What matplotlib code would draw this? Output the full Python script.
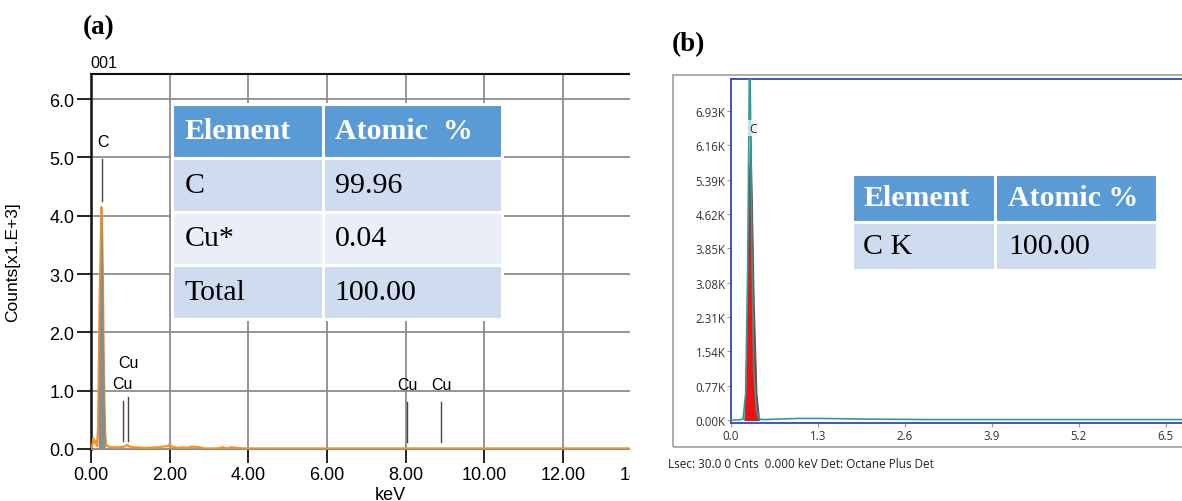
import matplotlib
matplotlib.use("Agg")
import matplotlib.pyplot as plt
from matplotlib.patches import Rectangle

W, H = 1182, 502

# ---------------- data: panel (a) ----------------
energy_a = [0.00, 0.03, 0.06, 0.09, 0.12, 0.15, 0.18, 0.20, 0.22, 0.24, 0.26, 0.28,
            0.30, 0.32, 0.34, 0.36, 0.39, 0.45, 0.55, 0.70, 0.85, 0.92, 0.98, 1.10,
            1.40, 1.70, 1.95, 2.00, 2.06, 2.20, 2.35, 2.45, 2.55, 2.75, 2.90, 3.20,
            3.35, 3.45, 3.58, 3.70, 3.85, 5.00, 8.00, 11.00, 15.50]
counts_a = [0.00, 0.05, 0.18, 0.10, 0.14, 0.05, 0.35, 1.50, 2.60, 3.20, 4.15, 3.90,
            3.00, 1.75, 0.85, 0.25, 0.06, 0.04, 0.03, 0.03, 0.04, 0.07, 0.04, 0.03,
            0.02, 0.03, 0.05, 0.08, 0.04, 0.02, 0.03, 0.02, 0.04, 0.03, 0.01, 0.01,
            0.03, 0.01, 0.03, 0.02, 0.01, 0.01, 0.01, 0.01, 0.01]
roi_a = (0.18, 0.36)

# element marker lines: (energy, y_top, y_bottom)
markers_a = [(0.277, 4.97, 4.25), (0.811, 0.82, 0.14), (0.930, 0.89, 0.14),
             (8.040, 0.81, 0.12), (8.905, 0.81, 0.12)]
# marker labels: (text, energy, y)
labels_a = [("C", 0.30, 5.27), ("Cu", 0.81, 1.13), ("Cu", 0.94, 1.49),
            ("Cu", 8.04, 1.11), ("Cu", 8.92, 1.11)]

table_a_header = ["Element", "Atomic  %"]
table_a_rows = [["C", "99.96"], ["Cu*", "0.04"], ["Total", "100.00"]]

# ---------------- data: panel (b) ----------------
energy_b = [0.00, 0.10, 0.18, 0.22, 0.25, 0.27, 0.28, 0.29, 0.31, 0.34, 0.38, 0.42,
            0.50, 0.70, 1.00, 1.30, 1.60, 2.00, 2.50, 3.00, 4.00, 5.00, 6.00, 6.80]
counts_b = [0.00, 0.00, 0.02, 0.60, 3.50, 7.00, 8.50, 7.20, 4.00, 1.20, 0.20, 0.02,
            0.01, 0.02, 0.035, 0.035, 0.03, 0.02, 0.015, 0.01, 0.01, 0.01, 0.01, 0.01]
roi_energy_b = [0.20, 0.24, 0.27, 0.29, 0.31, 0.34, 0.38, 0.42]
roi_counts_b = [0.00, 2.20, 5.50, 6.40, 5.00, 2.60, 0.60, 0.00]

yticks_b = [0.00, 0.77, 1.54, 2.31, 3.08, 3.85, 4.62, 5.39, 6.16, 6.93]
xticks_b = [0.0, 1.3, 2.6, 3.9, 5.2, 6.5]

table_b_header = ["Element", "Atomic %"]
table_b_rows = [["C K", "100.00"]]


def px_box(x0, y0, x1, y1):
    return [x0 / W, 1 - y1 / H, (x1 - x0) / W, (y1 - y0) / H]


def draw_table(fig, box, header, rows, col_frac, pads):
    tax = fig.add_axes(box)
    tax.axis("off")
    tbl = tax.table(cellText=rows, colLabels=header, bbox=[0, 0, 1, 1],
                    colWidths=col_frac, cellLoc="left", colLoc="left")
    tbl.auto_set_font_size(False)
    for (r, c), cell in tbl.get_celld().items():
        cell.set_edgecolor("white")
        cell.set_linewidth(2.2)
        cell.PAD = pads[c]
        txt = cell.get_text()
        txt.set_fontfamily("Liberation Serif")
        txt.set_fontsize(21.5)
        if r == 0:
            cell.set_facecolor("#5b9bd5")
            txt.set_color("white")
            txt.set_fontweight("bold")
        else:
            cell.set_facecolor("#e9eef7" if r % 2 == 0 else "#cfdbee")
            txt.set_color("black")
    tax.set_zorder(12)
    return tax


fig = plt.figure(figsize=(W / 100, H / 100), dpi=100)
fig.patch.set_facecolor("white")

# ================= panel (a) =================
ax = fig.add_axes(px_box(91, 75, 689, 450))
ax.plot(energy_a, counts_a, color="#f7931e", lw=1.6, zorder=3)
mask = [roi_a[0] <= e <= roi_a[1] for e in energy_a]
ax.fill_between(energy_a, 0, counts_a, where=mask, color="#8c8c8c", lw=0, zorder=4)
for e, y1, y0 in markers_a:
    ax.plot([e, e], [y0, y1], color="#444444", lw=1.0, zorder=4)
for t, e, y in labels_a:
    ax.text(e, y, t, ha="center", va="center", fontsize=11.5,
            family="Liberation Sans", zorder=4)

ax.set_xlim(0, 15.2)
ax.set_ylim(0, 6.43)
ax.set_xticks([0, 2, 4, 6, 8, 10, 12, 14])
ax.set_xticklabels([f"{v:.2f}" for v in [0, 2, 4, 6, 8, 10, 12, 14]])
ax.set_yticks([0, 1, 2, 3, 4, 5, 6])
ax.set_yticklabels([f"{v:.1f}" for v in range(7)])
ax.grid(True, color="#8c8c8c", lw=1.3)
ax.set_axisbelow(True)
for lab in ax.get_xticklabels() + ax.get_yticklabels():
    lab.set_family("Liberation Sans")
    lab.set_fontsize(13)
ax.tick_params(axis="both", direction="out", length=10, width=1.4, color="#222222", pad=2)
ax.spines["left"].set_color("#111111")
ax.spines["left"].set_linewidth(1.8)
ax.spines["top"].set_color("#111111")
ax.spines["top"].set_linewidth(1.5)
ax.spines["bottom"].set_color("#8c8c8c")
ax.spines["right"].set_visible(False)
ax.set_ylabel("Counts[x1.E+3]", family="Liberation Sans", fontsize=12.5, labelpad=6)
ax.yaxis.set_label_coords(-0.118, 0.5)
ax.set_xlabel("keV", family="Liberation Sans", fontsize=13, labelpad=0)
ax.xaxis.set_label_coords(0.50, -0.098)

fig.text(90 / W, 1 - 63 / H, "001", ha="left", va="center", fontsize=11.7, family="Liberation Sans")
fig.text(83 / W, 1 - 28 / H, "(a)", ha="left", va="center", fontsize=19.5,
         family="Liberation Serif", weight="bold")

draw_table(fig, px_box(172, 105, 502, 320), table_a_header, table_a_rows,
           [151 / 330, 179 / 330], [0.085, 0.065])

# crop of panel (a) on the right
fig.add_artist(Rectangle((630 / W, 0), 100 / W, 1, transform=fig.transFigure,
                         facecolor="white", edgecolor="none", zorder=10))

# ================= panel (b) =================
fig.add_artist(Rectangle((673 / W, 1 - 448 / H), 600 / W, 372 / H, transform=fig.transFigure,
                         fill=False, edgecolor="#a0a0a0", lw=1.2, zorder=11))
fig.text(672 / W, 1 - 45 / H, "(b)", ha="left", va="center", fontsize=19.5,
         family="Liberation Serif", weight="bold", zorder=11)

bx = fig.add_axes(px_box(731, 80, 1183, 424))
bx.set_zorder(11)
bx.patch.set_alpha(0)
bx.fill_between(roi_energy_b, 0, roi_counts_b, color="#ee1111", edgecolor="#555555", lw=0.8, zorder=3)
bx.plot(energy_b, counts_b, color="#2a9d9a", lw=1.2, zorder=4)
bx.text(0.33, 6.55, "C", ha="center", va="center", fontsize=8.3, family="Open Sans",
        color="#222222", zorder=5,
        bbox=dict(boxstyle="square,pad=0.15", facecolor="#e6f2f2", edgecolor="none", alpha=0.8))
bx.set_xlim(0, 6.76)
bx.set_ylim(-0.067, 7.65)
bx.set_xticks(xticks_b)
bx.set_xticklabels([f"{v:.1f}" for v in xticks_b])
bx.set_yticks(yticks_b)
bx.set_yticklabels([f"{v:.2f}K" for v in yticks_b])
for lab in bx.get_xticklabels() + bx.get_yticklabels():
    lab.set_family("Open Sans")
    lab.set_fontsize(8.3)
    lab.set_color("#333333")
bx.tick_params(axis="both", direction="out", length=3, width=0.8, color="#999999", pad=1)
for side in ["left", "top", "bottom"]:
    bx.spines[side].set_color("#3846b0")
    bx.spines[side].set_linewidth(1.3)
bx.spines["right"].set_visible(False)

fig.text(668 / W, 1 - 465 / H, "Lsec: 30.0 0 Cnts  0.000 keV Det: Octane Plus Det",
         ha="left", va="center", fontsize=8.5, family="Open Sans", color="#222222", zorder=11)

draw_table(fig, px_box(852, 175, 1157, 271), table_b_header, table_b_rows,
           [143 / 305, 162 / 305], [0.08, 0.08])

fig.savefig("out.png", dpi=100, facecolor="white")
